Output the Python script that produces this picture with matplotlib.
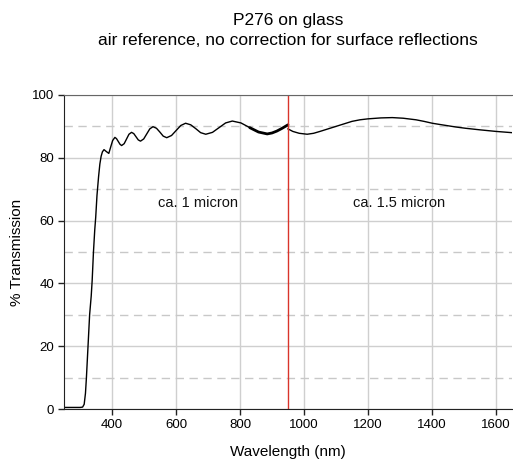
import numpy as np
import matplotlib
matplotlib.use("Agg")
import matplotlib.pyplot as plt
from matplotlib.ticker import MultipleLocator

plt.rcParams['font.family'] = ['Liberation Sans', 'DejaVu Sans']

# ca. 1 micron part (measured up to the detector change at 950 nm)
wl_a = [250, 300, 308, 313, 317, 320, 325, 330, 335, 338, 342, 346, 349, 353, 358,
        362, 366, 370, 375, 382, 390,
        396, 402, 409, 414, 419.5, 425, 430, 438, 445.5, 453, 461, 468, 475, 482,
        489, 499, 508.5, 518, 528, 539, 549.5, 560, 571, 586, 600.5, 615, 630,
        646, 661.5, 677, 693, 714, 734.5, 755, 776, 803, 830.5]
tr_a = [0.5, 0.5, 0.6, 1.5, 5, 10, 20, 30, 36, 41, 50, 57, 61, 68, 74,
        78, 80.5, 81.9, 82.6, 82.0, 81.4,
        83.5, 85.5, 86.5, 86.1, 85.2, 84.3, 83.9, 84.5, 86.0, 87.5, 88.1, 87.7, 86.7, 85.7,
        85.3, 86.0, 87.6, 89.2, 89.9, 89.4, 88.2, 86.9, 86.4, 87.1, 88.7, 90.3, 91.0,
        90.5, 89.3, 88.0, 87.5, 88.1, 89.6, 91.1, 91.7, 91.1, 89.6]

# noisy stretch just before 950 nm (drawn thicker)
wl_n = [830.5, 858, 885, 900, 915, 930, 950]
tr_n = [89.6, 88.2, 87.6, 87.9, 88.5, 89.3, 90.5]

# ca. 1.5 micron part
wl_b = [950, 965, 985, 1010, 1030, 1050, 1075, 1100, 1125, 1150, 1175, 1200, 1240,
        1276, 1310, 1350, 1375, 1401, 1425, 1450, 1475, 1505, 1550, 1600, 1650]
tr_b = [89.2, 88.4, 87.8, 87.5, 87.8, 88.4, 89.2, 90.0, 90.8, 91.6, 92.1, 92.4, 92.7,
        92.8, 92.6, 92.1, 91.6, 91.0, 90.6, 90.2, 89.8, 89.4, 88.9, 88.4, 88.0]

split_wl = 950
labels = ["ca. 1 micron", "ca. 1.5 micron"]
label_x = [669, 1297]
label_y = 65.7

fig = plt.figure(figsize=(5.13, 4.62), dpi=100)
ax = fig.add_axes([0.1248, 0.1147, 0.8732, 0.6797])

ax.set_xlim(250, 1650)
ax.set_ylim(0, 100)
ax.xaxis.set_major_locator(MultipleLocator(200))
ax.yaxis.set_major_locator(MultipleLocator(20))
ax.yaxis.set_minor_locator(MultipleLocator(10))

ax.grid(True, which='major', color='#cfcfcf', lw=1.0, ls='-')
ax.grid(True, which='minor', axis='y', color='#c8c8c8', lw=1.0, ls=(0, (6, 4)))
ax.set_axisbelow(True)

ax.plot(wl_a, tr_a, color='black', lw=1.0)
ax.plot(wl_n, tr_n, color='black', lw=2.0, solid_capstyle='round')
ax.plot(wl_b, tr_b, color='black', lw=1.0)
ax.axvline(split_wl, color='#d9342b', lw=1.0)

for t, x in zip(labels, label_x):
    ax.text(x, label_y, t, ha='center', va='center', fontsize=10.5, color='#111111')

ax.spines['right'].set_visible(False)
ax.spines['top'].set_color('#666666')
ax.spines['left'].set_color('#222222')
ax.spines['bottom'].set_color('#222222')

ax.tick_params(which='major', direction='out', length=4, width=1, labelsize=9.5,
               color='#222222', pad=3)
ax.tick_params(which='minor', length=0)
ax.tick_params(top=False, right=False)

ax.set_xlabel("Wavelength (nm)", fontsize=11, labelpad=10)
ax.set_ylabel("% Transmission", fontsize=11, labelpad=6)

fig.text(0.5615, 0.955, "P276 on glass", ha='center', va='center', fontsize=12.5)
fig.text(0.5615, 0.912, "air reference, no correction for surface reflections",
         ha='center', va='center', fontsize=12.5)

fig.savefig("out.png", dpi=100)
